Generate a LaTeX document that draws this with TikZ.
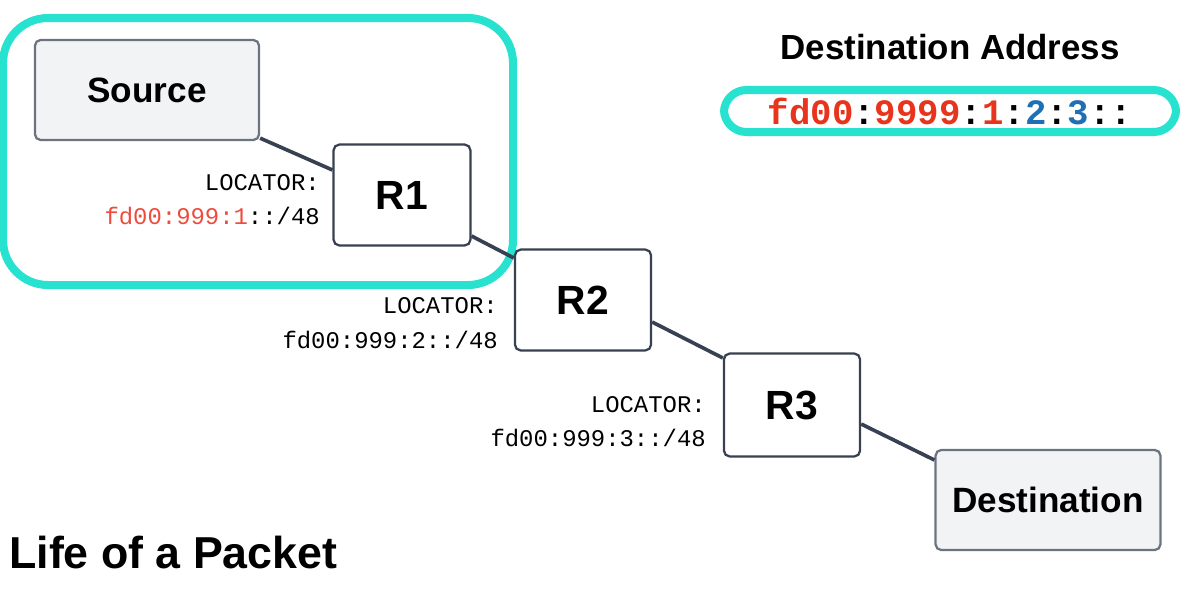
\documentclass[tikz,border=0pt]{standalone}
\usepackage{fontspec}
\setmainfont{Liberation Sans}
\newfontfamily\mono{Liberation Mono}
\begin{document}
\definecolor{cyanb}{HTML}{27E2CE}
\definecolor{edge}{HTML}{374151}
\definecolor{endb}{HTML}{6B7280}
\definecolor{boxg}{HTML}{F2F3F5}
\definecolor{redt}{HTML}{E8341C}
\definecolor{redl}{HTML}{EF4B3C}
\definecolor{bluet}{HTML}{1F6FB5}
\begin{tikzpicture}[x=0.025cm,y=-0.025cm,
  router/.style={draw=edge,line width=1.6pt,rounded corners=4pt,fill=white,font=\fontsize{29}{29}\bfseries\selectfont,inner sep=0pt},
  endp/.style={draw=endb,line width=1.6pt,rounded corners=4pt,fill=boxg,font=\fontsize{25}{25}\bfseries\selectfont,inner sep=0pt},
  conn/.style={draw=edge,line width=2.6pt},
  loc/.style={font=\mono\fontsize{17}{17}\selectfont,anchor=east,inner sep=0pt}]
\useasboundingbox (0,0) rectangle (1200,600);
\draw[cyanb,line width=5.7pt,rounded corners=32pt] (3,18) rectangle (513,285);
\node[endp,minimum width=5.6cm,minimum height=2.5cm] (src) at (147,90) {Source};
\node[router,minimum width=3.42cm,minimum height=2.52cm] (r1) at (402,195) {R1};
\node[router,minimum width=3.4cm,minimum height=2.52cm] (r2) at (583,300) {R2};
\node[router,minimum width=3.4cm,minimum height=2.57cm] (r3) at (792,405) {R3};
\node[endp,minimum width=5.62cm,minimum height=2.5cm] (dst) at (1048,500) {Destination};
\draw[conn] (src.south east) ++(0,-3) -- (r1.west |- 0,170);
\draw[conn] (r1.east |- 0,236) -- (r2.west |- 0,258);
\draw[conn] (r2.east |- 0,322) -- (r3.west |- 0,358);
\draw[conn] (r3.east |- 0,424) -- (dst.west |- 0,460);
\node[loc] (l1a) at (320,183) {LOCATOR:};
\node[loc] (l1b) at (320,216) {\textcolor{redl}{fd00:999:1}::/48};
\node[loc] (l2a) at (498,306) {LOCATOR:};
\node[loc] (l2b) at (498,340) {fd00:999:2::/48};
\node[loc] (l3a) at (706,405) {LOCATOR:};
\node[loc] (l3b) at (706,438) {fd00:999:3::/48};
\node[font=\fontsize{24.8}{24.8}\bfseries\selectfont] (dah) at (950,47) {Destination Address};
\node[draw=cyanb,line width=5.7pt,rounded corners=16pt,minimum width=11.3cm,minimum height=1.05cm,inner sep=0pt,font=\mono\fontsize{25.4}{25.4}\bfseries\selectfont] (addr) at (950,111)
 {\textcolor{redt}{fd00}:\textcolor{redt}{9999}:\textcolor{redt}{1}:\textcolor{bluet}{2}:\textcolor{bluet}{3}::};
\node[anchor=west,inner sep=0pt,font=\fontsize{31.8}{31.8}\bfseries\selectfont] (title) at (9,553) {Life of a Packet};
\end{tikzpicture}
\end{document}
